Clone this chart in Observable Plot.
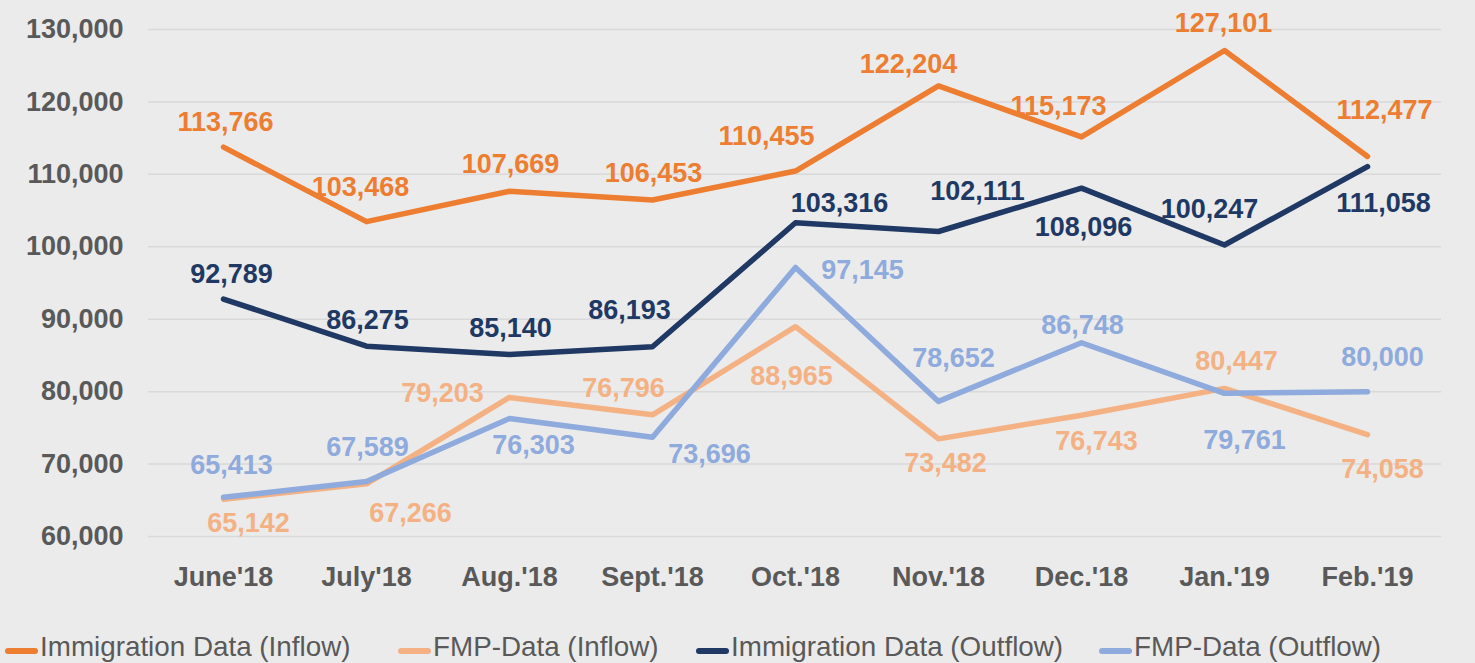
<!DOCTYPE html>
<html>
<head>
<meta charset="utf-8">
<script src="https://cdn.jsdelivr.net/npm/d3@7"></script>
<script src="https://cdn.jsdelivr.net/npm/@observablehq/plot@0.6"></script>
<style>
  html, body { margin: 0; padding: 0; background: #ebebeb; }
  #wrap { position: relative; width: 1475px; height: 663px; overflow: hidden; background: #ebebeb;
          font-family: "Liberation Sans", Arial, sans-serif; }
  #chart svg { display: block; }
  .lg-sw { position: absolute; height: 6px; width: 33px; border-radius: 3px; top: 648px; }
  .lg-tx { position: absolute; top: 633px; font-size: 27.8px; line-height: 28px; color: #595959; white-space: nowrap; }
</style>
</head>
<body>
<div id="wrap">
  <div id="chart"></div>
  <div id="legend"></div>
</div>
<script>
// ---- data ----
const months = ["June'18", "July'18", "Aug.'18", "Sept.'18", "Oct.'18", "Nov.'18", "Dec.'18", "Jan.'19", "Feb.'19"];
const seriesNames = ["Immigration Data (Inflow)", "FMP-Data (Inflow)", "Immigration Data (Outflow)", "FMP-Data (Outflow)"];
const immigrationInflow  = [113766, 103468, 107669, 106453, 110455, 122204, 115173, 127101, 112477];
const fmpInflow          = [65142, 67266, 79203, 76796, 88965, 73482, 76743, 80447, 74058];
const immigrationOutflow = [92789, 86275, 85140, 86193, 103316, 102111, 108096, 100247, 111058];
const fmpOutflow         = [65413, 67589, 76303, 73696, 97145, 78652, 86748, 79761, 80000];
const yTicks = [60000, 70000, 80000, 90000, 100000, 110000, 120000, 130000];

// ---- styles / label placement (not data) ----
const colors = ["#ED7D31", "#F4B183", "#203864", "#8FAADC"];
const labelDx = [
  [2, -6, 1, 1, -29, -30, -23, -1, 17],
  [25, 44, -67, -29, -4, 7, 15, 12, 15],
  [8, 1, 1, -23, 44, 39, 2, -15, 16],
  [8, 1, 24, 57, 67, 15, 1, 20, 15]
];
const labelDy = [
  [-25, -34, -27, -27, -35, -22, -31, -27, -46],
  [24, 29, -4, -26, 50, 25, 26, -27, 35],
  [-25, -26, -26, -36, -19, -40, 39, -36, 37],
  [-32, -34, 27, 17, 3, -43, -17, 47, -34]
];

const allValues = [immigrationInflow, fmpInflow, immigrationOutflow, fmpOutflow];
const fmt = d3.format(",");

const marks = [
  Plot.gridY(yTicks, {stroke: "#d9d9d9", strokeOpacity: 1, strokeWidth: 1.5}),
  Plot.axisY(yTicks, {tickSize: 0, tickPadding: 25, tickFormat: fmt, fill: "#595959",
    fontSize: 27, fontWeight: "bold", label: null}),
  Plot.axisX({tickSize: 0, tickPadding: 30, fill: "#595959", fontSize: 27, fontWeight: "bold", label: null})
];

allValues.forEach((vals, s) => {
  const rows = months.map((m, i) => ({month: m, value: vals[i]}));
  marks.push(Plot.line(rows, {x: "month", y: "value", stroke: colors[s], strokeWidth: 5.5,
    strokeLinecap: "round", strokeLinejoin: "round"}));
});
allValues.forEach((vals, s) => {
  months.forEach((m, i) => {
    marks.push(Plot.text([{month: m, value: vals[i]}], {
      x: "month", y: "value", text: d => fmt(d.value),
      dx: labelDx[s][i], dy: labelDy[s][i],
      fill: colors[s], fontSize: 27, fontWeight: "bold"
    }));
  });
});

const chart = Plot.plot({
  width: 1475,
  height: 610,
  marginLeft: 148,
  marginRight: 34,
  marginTop: 29,
  marginBottom: 74,
  style: {background: "#ebebeb", fontFamily: "'Liberation Sans', Arial, sans-serif", overflow: "visible"},
  x: {type: "point", domain: months, padding: 0.5, label: null},
  y: {domain: [60000, 130000], label: null},
  marks
});
document.getElementById("chart").appendChild(chart);

// legend
const legend = document.getElementById("legend");
const lgSwatchX = [5, 398, 696, 1099];
seriesNames.forEach((name, s) => {
  const sw = document.createElement("div");
  sw.className = "lg-sw";
  sw.style.left = lgSwatchX[s] + "px";
  sw.style.background = colors[s];
  legend.appendChild(sw);
  const tx = document.createElement("div");
  tx.className = "lg-tx";
  tx.style.left = (lgSwatchX[s] + 35) + "px";
  tx.textContent = name;
  legend.appendChild(tx);
});
</script>
</body>
</html>
